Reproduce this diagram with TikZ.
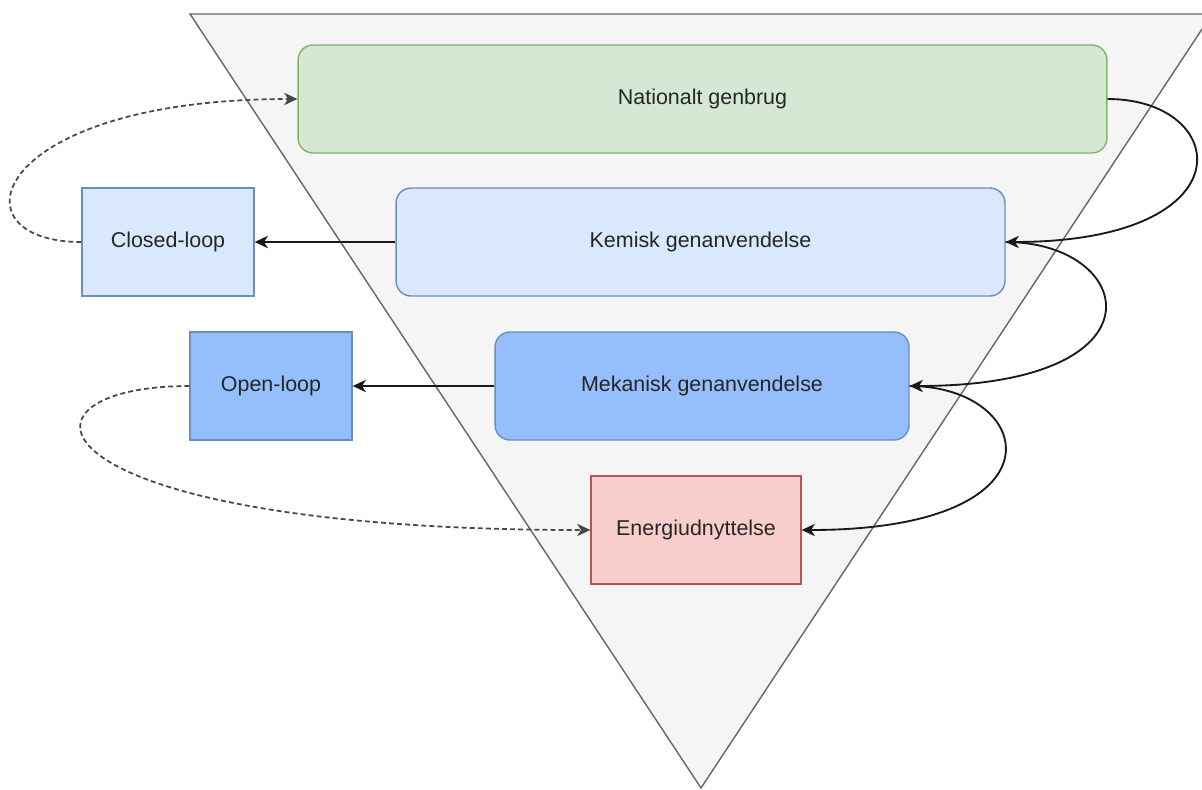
\documentclass[tikz,border=0pt]{standalone}
\usepackage{fontspec}
\setmainfont{Liberation Sans}
\usetikzlibrary{arrows.meta,calc}
\definecolor{trifill}{HTML}{F5F5F5}
\definecolor{tridraw}{HTML}{666666}
\definecolor{greenfill}{HTML}{D5E8D4}
\definecolor{greendraw}{HTML}{82B366}
\definecolor{bluefill}{HTML}{DAE8FC}
\definecolor{bluedraw}{HTML}{6C8EBF}
\definecolor{midblue}{RGB}{148,190,252}
\definecolor{redfill}{HTML}{F8CECC}
\definecolor{reddraw}{HTML}{B85450}
\begin{document}
\begin{tikzpicture}[x=0.02cm,y=-0.02cm,
  box/.style={draw, line width=0.8pt, inner sep=0pt, anchor=center,
    font=\fontsize{12.2}{14}\selectfont, text=black!85},
  rbox/.style={box, rounded corners=0.3cm},
  arr/.style={line width=1.05pt, draw=black!90,
    -{Stealth[length=7.5pt,width=7pt,inset=2.2pt]}},
  dasharr/.style={arr, line width=1pt, draw=black!72, dash pattern=on 2.8pt off 1.8pt}]
\useasboundingbox (0,0) rectangle (1202,789);
% inverted pyramid in the background
\draw[fill=trifill, draw=tridraw, line width=0.8pt]
  (190,14) -- (1212,14) -- (701,788) -- cycle;

\node[rbox, fill=greenfill, draw=greendraw, minimum width=16.18cm, minimum height=2.16cm]
  (nat) at (702.5,99) {Nationalt genbrug};
\node[rbox, fill=bluefill, draw=bluedraw, minimum width=12.18cm, minimum height=2.16cm]
  (kem) at (700.5,242) {Kemisk genanvendelse};
\node[rbox, fill=midblue, draw=bluedraw, minimum width=8.28cm, minimum height=2.16cm]
  (mek) at (702,386) {Mekanisk genanvendelse};
\node[box, fill=redfill, draw=reddraw, minimum width=4.2cm, minimum height=2.16cm]
  (en) at (696,530) {Energiudnyttelse};
\node[box, fill=bluefill, draw=bluedraw, minimum width=3.44cm, minimum height=2.16cm]
  (closed) at (168,242) {Closed-loop};
\node[box, fill=midblue, draw=bluedraw, minimum width=3.24cm, minimum height=2.16cm]
  (open) at (271,386) {Open-loop};

% outputs of each recycling route
\draw[arr] (kem.west) -- (closed.east);
\draw[arr] (mek.west) -- (open.east);

% loops back into the hierarchy
\draw[dasharr] (closed.west) .. controls +(-132,0) and +(-308,0) .. (nat.west);
\draw[dasharr] (open.west) .. controls +(-195,0) and +(-566,0) .. (en.west);

% cascade down the hierarchy
\draw[arr] (nat.east) .. controls +(123,0) and +(245,0) .. (kem.east);
\draw[arr] (kem.east) .. controls +(130,0) and +(261,0) .. (mek.east);
\draw[arr] (mek.east) .. controls +(126,0) and +(269,0) .. (en.east);
\end{tikzpicture}
\end{document}
